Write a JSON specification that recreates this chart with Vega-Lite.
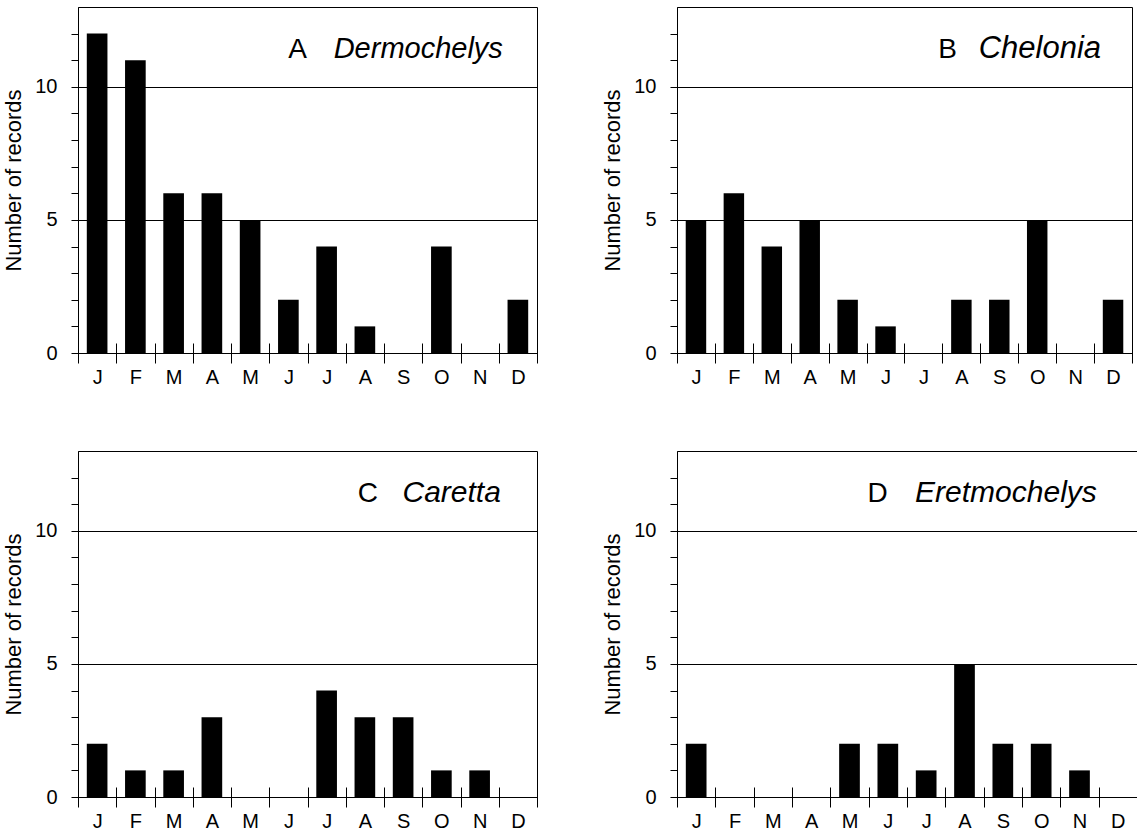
{
  "$schema": "https://vega.github.io/schema/vega-lite/v6.json",
  "background": "white",
  "padding": {"left": 2, "top": 6, "right": 1, "bottom": 5},
  "datasets": {
    "records": [
      {"panel": "A", "month": "Jan", "count": 12}, {"panel": "A", "month": "Feb", "count": 11}, {"panel": "A", "month": "Mar", "count": 6}, {"panel": "A", "month": "Apr", "count": 6}, {"panel": "A", "month": "May", "count": 5}, {"panel": "A", "month": "Jun", "count": 2}, {"panel": "A", "month": "Jul", "count": 4}, {"panel": "A", "month": "Aug", "count": 1}, {"panel": "A", "month": "Sep", "count": 0}, {"panel": "A", "month": "Oct", "count": 4}, {"panel": "A", "month": "Nov", "count": 0}, {"panel": "A", "month": "Dec", "count": 2},
      {"panel": "B", "month": "Jan", "count": 5}, {"panel": "B", "month": "Feb", "count": 6}, {"panel": "B", "month": "Mar", "count": 4}, {"panel": "B", "month": "Apr", "count": 5}, {"panel": "B", "month": "May", "count": 2}, {"panel": "B", "month": "Jun", "count": 1}, {"panel": "B", "month": "Jul", "count": 0}, {"panel": "B", "month": "Aug", "count": 2}, {"panel": "B", "month": "Sep", "count": 2}, {"panel": "B", "month": "Oct", "count": 5}, {"panel": "B", "month": "Nov", "count": 0}, {"panel": "B", "month": "Dec", "count": 2},
      {"panel": "C", "month": "Jan", "count": 2}, {"panel": "C", "month": "Feb", "count": 1}, {"panel": "C", "month": "Mar", "count": 1}, {"panel": "C", "month": "Apr", "count": 3}, {"panel": "C", "month": "May", "count": 0}, {"panel": "C", "month": "Jun", "count": 0}, {"panel": "C", "month": "Jul", "count": 4}, {"panel": "C", "month": "Aug", "count": 3}, {"panel": "C", "month": "Sep", "count": 3}, {"panel": "C", "month": "Oct", "count": 1}, {"panel": "C", "month": "Nov", "count": 1}, {"panel": "C", "month": "Dec", "count": 0},
      {"panel": "D", "month": "Jan", "count": 2}, {"panel": "D", "month": "Feb", "count": 0}, {"panel": "D", "month": "Mar", "count": 0}, {"panel": "D", "month": "Apr", "count": 0}, {"panel": "D", "month": "May", "count": 2}, {"panel": "D", "month": "Jun", "count": 2}, {"panel": "D", "month": "Jul", "count": 1}, {"panel": "D", "month": "Aug", "count": 5}, {"panel": "D", "month": "Sep", "count": 2}, {"panel": "D", "month": "Oct", "count": 2}, {"panel": "D", "month": "Nov", "count": 1}, {"panel": "D", "month": "Dec", "count": 0}
    ],
    "labels": [
      {"panel": "A", "letter": "A", "genus": "Dermochelys"},
      {"panel": "B", "letter": "B", "genus": "Chelonia"},
      {"panel": "C", "letter": "C", "genus": "Caretta"},
      {"panel": "D", "letter": "D", "genus": "Eretmochelys"}
    ]
  },
  "config": {
    "font": "Liberation Sans",
    "view": {"stroke": "black", "strokeWidth": 1},
    "axis": {
      "domainColor": "black", "tickColor": "black", "labelColor": "black", "titleColor": "black",
      "labelFont": "Liberation Sans", "titleFont": "Liberation Sans",
      "labelFontSize": 20, "titleFontSize": 22, "titleFontWeight": "normal"
    },
    "text": {"font": "Liberation Sans", "fontSize": 28, "color": "black"}
  },
  "spacing": 62,
  "vconcat": [
    {
      "spacing": 63,
      "hconcat": [
        {
          "width": 459, "height": 346,
          "resolve": {"axis": {"x": "independent", "y": "independent"}},
          "layer": [
            {
              "data": {"name": "records"},
              "transform": [{"filter": "datum.panel === 'A'"}],
              "mark": {"type": "bar", "color": "black", "width": {"band": 0.54}},
              "encoding": {
                "x": {"field": "month", "type": "ordinal", "sort": ["Jan","Feb","Mar","Apr","May","Jun","Jul","Aug","Sep","Oct","Nov","Dec"],
                  "scale": {"paddingInner": 0, "paddingOuter": 0},
                  "axis": {"title": null, "labelExpr": "substring(datum.label,0,1)", "labelAngle": 0, "tickBand": "extent", "domain": false, "offset": -10, "tickSize": 20, "labelPadding": 4}},
                "y": {"field": "count", "type": "quantitative", "scale": {"domain": [0, 13], "nice": false},
                  "axis": {"title": "Number of records", "values": [0,1,2,3,4,5,6,7,8,9,10,11,12], "labelExpr": "(datum.value === 0 || datum.value === 5 || datum.value === 10) ? datum.label : ''", "labelOverlap": false, "grid": true, "gridColor": "black", "gridOpacity": {"condition": {"test": "datum.value === 0 || datum.value === 5 || datum.value === 10", "value": 1}, "value": 0}, "tickSize": 7, "labelPadding": 14, "titlePadding": 9}}
              }
            },
            {
              "data": {"name": "labels"},
              "transform": [{"filter": "datum.panel === 'A'"}],
              "mark": {"type": "text", "align": "right", "baseline": "alphabetic", "fontStyle": "italic", "fontSize": 29, "dx": -15},
              "encoding": {"x": {"datum": "Dec", "type": "ordinal", "axis": null}, "y": {"datum": 11.08, "type": "quantitative", "axis": null}, "text": {"field": "genus"}}
            },
            {
              "data": {"name": "labels"},
              "transform": [{"filter": "datum.panel === 'A'"}],
              "mark": {"type": "text", "align": "right", "baseline": "alphabetic", "dx": -211},
              "encoding": {"x": {"datum": "Dec", "type": "ordinal", "axis": null}, "y": {"datum": 11.08, "type": "quantitative", "axis": null}, "text": {"field": "letter"}}
            }
          ]
        },
        {
          "width": 455, "height": 346,
          "resolve": {"axis": {"x": "independent", "y": "independent"}},
          "layer": [
            {
              "data": {"name": "records"},
              "transform": [{"filter": "datum.panel === 'B'"}],
              "mark": {"type": "bar", "color": "black", "width": {"band": 0.54}},
              "encoding": {
                "x": {"field": "month", "type": "ordinal", "sort": ["Jan","Feb","Mar","Apr","May","Jun","Jul","Aug","Sep","Oct","Nov","Dec"],
                  "scale": {"paddingInner": 0, "paddingOuter": 0},
                  "axis": {"title": null, "labelExpr": "substring(datum.label,0,1)", "labelAngle": 0, "tickBand": "extent", "domain": false, "offset": -10, "tickSize": 20, "labelPadding": 4}},
                "y": {"field": "count", "type": "quantitative", "scale": {"domain": [0, 13], "nice": false},
                  "axis": {"title": "Number of records", "values": [0,1,2,3,4,5,6,7,8,9,10,11,12], "labelExpr": "(datum.value === 0 || datum.value === 5 || datum.value === 10) ? datum.label : ''", "labelOverlap": false, "grid": true, "gridColor": "black", "gridOpacity": {"condition": {"test": "datum.value === 0 || datum.value === 5 || datum.value === 10", "value": 1}, "value": 0}, "tickSize": 7, "labelPadding": 14, "titlePadding": 9}}
              }
            },
            {
              "data": {"name": "labels"},
              "transform": [{"filter": "datum.panel === 'B'"}],
              "mark": {"type": "text", "align": "right", "baseline": "alphabetic", "fontStyle": "italic", "fontSize": 31, "dx": -12},
              "encoding": {"x": {"datum": "Dec", "type": "ordinal", "axis": null}, "y": {"datum": 11.08, "type": "quantitative", "axis": null}, "text": {"field": "genus"}}
            },
            {
              "data": {"name": "labels"},
              "transform": [{"filter": "datum.panel === 'B'"}],
              "mark": {"type": "text", "align": "right", "baseline": "alphabetic", "dx": -156},
              "encoding": {"x": {"datum": "Dec", "type": "ordinal", "axis": null}, "y": {"datum": 11.08, "type": "quantitative", "axis": null}, "text": {"field": "letter"}}
            }
          ]
        }
      ]
    },
    {
      "spacing": 63,
      "hconcat": [
        {
          "width": 459, "height": 346,
          "resolve": {"axis": {"x": "independent", "y": "independent"}},
          "layer": [
            {
              "data": {"name": "records"},
              "transform": [{"filter": "datum.panel === 'C'"}],
              "mark": {"type": "bar", "color": "black", "width": {"band": 0.54}},
              "encoding": {
                "x": {"field": "month", "type": "ordinal", "sort": ["Jan","Feb","Mar","Apr","May","Jun","Jul","Aug","Sep","Oct","Nov","Dec"],
                  "scale": {"paddingInner": 0, "paddingOuter": 0},
                  "axis": {"title": null, "labelExpr": "substring(datum.label,0,1)", "labelAngle": 0, "tickBand": "extent", "domain": false, "offset": -10, "tickSize": 20, "labelPadding": 4}},
                "y": {"field": "count", "type": "quantitative", "scale": {"domain": [0, 13], "nice": false},
                  "axis": {"title": "Number of records", "values": [0,1,2,3,4,5,6,7,8,9,10,11,12], "labelExpr": "(datum.value === 0 || datum.value === 5 || datum.value === 10) ? datum.label : ''", "labelOverlap": false, "grid": true, "gridColor": "black", "gridOpacity": {"condition": {"test": "datum.value === 0 || datum.value === 5 || datum.value === 10", "value": 1}, "value": 0}, "tickSize": 7, "labelPadding": 14, "titlePadding": 9}}
              }
            },
            {
              "data": {"name": "labels"},
              "transform": [{"filter": "datum.panel === 'C'"}],
              "mark": {"type": "text", "align": "right", "baseline": "alphabetic", "fontStyle": "italic", "fontSize": 30, "dx": -17},
              "encoding": {"x": {"datum": "Dec", "type": "ordinal", "axis": null}, "y": {"datum": 11.08, "type": "quantitative", "axis": null}, "text": {"field": "genus"}}
            },
            {
              "data": {"name": "labels"},
              "transform": [{"filter": "datum.panel === 'C'"}],
              "mark": {"type": "text", "align": "right", "baseline": "alphabetic", "dx": -140},
              "encoding": {"x": {"datum": "Dec", "type": "ordinal", "axis": null}, "y": {"datum": 11.08, "type": "quantitative", "axis": null}, "text": {"field": "letter"}}
            }
          ]
        },
        {
          "width": 460, "height": 346,
          "resolve": {"axis": {"x": "independent", "y": "independent"}},
          "layer": [
            {
              "data": {"name": "records"},
              "transform": [{"filter": "datum.panel === 'D'"}],
              "mark": {"type": "bar", "color": "black", "width": {"band": 0.54}},
              "encoding": {
                "x": {"field": "month", "type": "ordinal", "sort": ["Jan","Feb","Mar","Apr","May","Jun","Jul","Aug","Sep","Oct","Nov","Dec"],
                  "scale": {"paddingInner": 0, "paddingOuter": 0},
                  "axis": {"title": null, "labelExpr": "substring(datum.label,0,1)", "labelAngle": 0, "tickBand": "extent", "domain": false, "offset": -10, "tickSize": 20, "labelPadding": 4}},
                "y": {"field": "count", "type": "quantitative", "scale": {"domain": [0, 13], "nice": false},
                  "axis": {"title": "Number of records", "values": [0,1,2,3,4,5,6,7,8,9,10,11,12], "labelExpr": "(datum.value === 0 || datum.value === 5 || datum.value === 10) ? datum.label : ''", "labelOverlap": false, "grid": true, "gridColor": "black", "gridOpacity": {"condition": {"test": "datum.value === 0 || datum.value === 5 || datum.value === 10", "value": 1}, "value": 0}, "tickSize": 7, "labelPadding": 14, "titlePadding": 9}}
              }
            },
            {
              "data": {"name": "labels"},
              "transform": [{"filter": "datum.panel === 'D'"}],
              "mark": {"type": "text", "align": "right", "baseline": "alphabetic", "fontStyle": "italic", "fontSize": 30, "dx": -21},
              "encoding": {"x": {"datum": "Dec", "type": "ordinal", "axis": null}, "y": {"datum": 11.08, "type": "quantitative", "axis": null}, "text": {"field": "genus"}}
            },
            {
              "data": {"name": "labels"},
              "transform": [{"filter": "datum.panel === 'D'"}],
              "mark": {"type": "text", "align": "right", "baseline": "alphabetic", "dx": -230},
              "encoding": {"x": {"datum": "Dec", "type": "ordinal", "axis": null}, "y": {"datum": 11.08, "type": "quantitative", "axis": null}, "text": {"field": "letter"}}
            }
          ]
        }
      ]
    }
  ]
}
